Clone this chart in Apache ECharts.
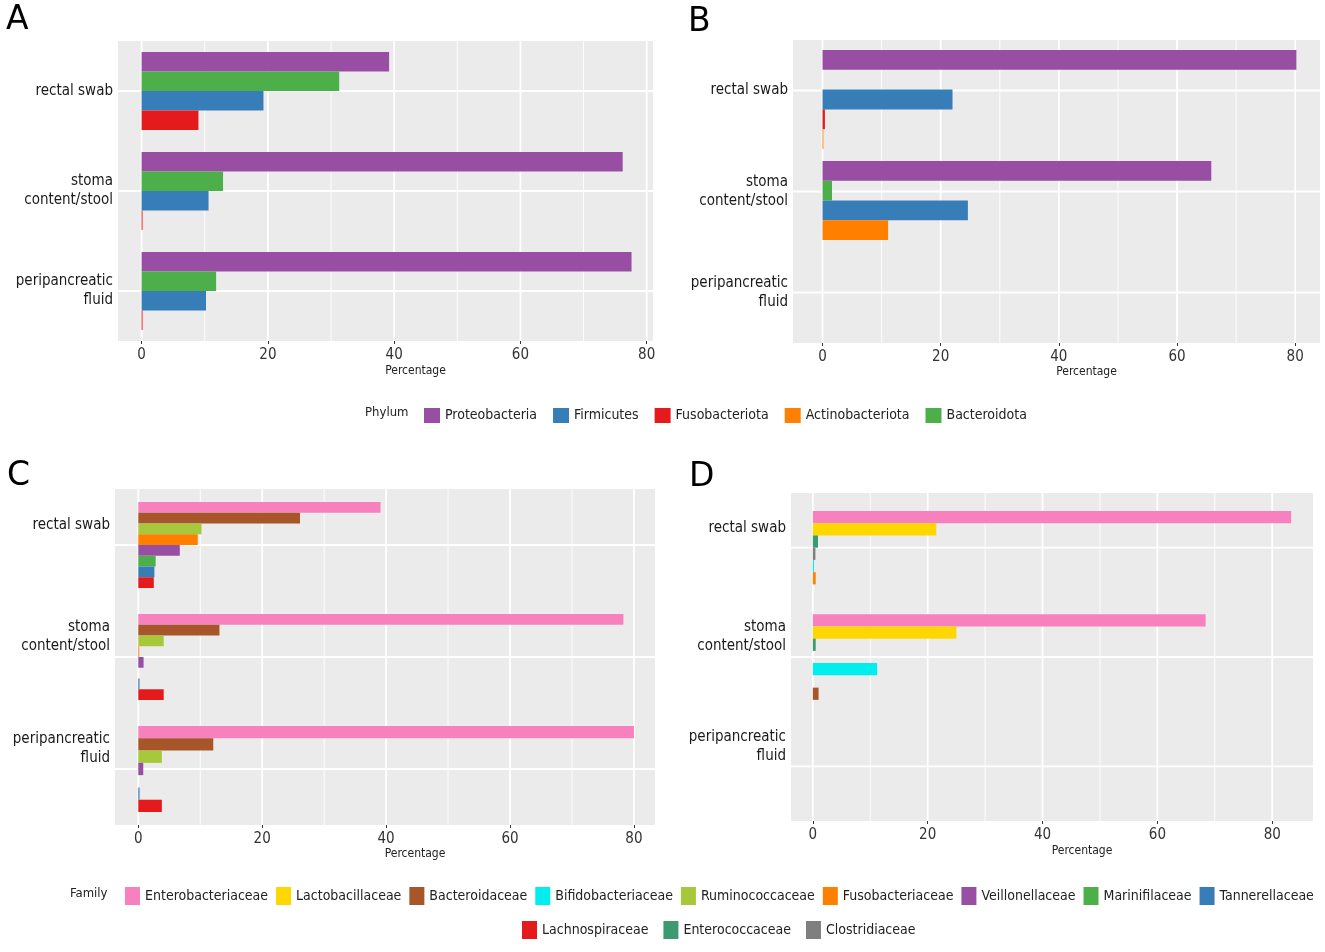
<!DOCTYPE html>
<html><head><meta charset="utf-8">
<script src="https://cdn.jsdelivr.net/npm/echarts@6/dist/echarts.min.js"></script>
<style>html,body{margin:0;padding:0;background:#fff}#c{width:1325px;height:952px}</style>
</head><body><div id="c"></div>
<script>
// ---------------- DATA ----------------
const categories = ['rectal swab', 'stoma\ncontent/stool', 'peripancreatic\nfluid'];
const xTicks = [0, 20, 40, 60, 80];
const xMinorTicks = [10, 30, 50, 70];

// Panel A (phylum) – values per category, null = not present
const A_Proteobacteria   = [39.2, 76.2, 77.6];
const A_Bacteroidota     = [31.3, 12.9, 11.8];
const A_Firmicutes       = [19.3, 10.6, 10.2];
const A_Fusobacteriota   = [9.0, 0.15, 0.15];
const A_Actinobacteriota = [null, null, null];

// Panel B (phylum)
const B_Proteobacteria   = [80.2, 65.8, null];
const B_Bacteroidota     = [0, 1.6, null];
const B_Firmicutes       = [22.0, 24.6, null];
const B_Fusobacteriota   = [0.4, null, null];
const B_Actinobacteriota = [0.15, 11.1, null];

// Panel C (family)
const C_Enterobacteriaceae = [39.1, 78.3, 80.0];
const C_Bacteroidaceae     = [26.1, 13.1, 12.1];
const C_Ruminococcaceae    = [10.2, 4.1, 3.8];
const C_Fusobacteriaceae   = [9.6, 0.15, null];
const C_Veillonellaceae    = [6.7, 0.85, 0.8];
const C_Marinifilaceae     = [2.8, 0, 0];
const C_Tannerellaceae     = [2.6, 0.2, 0.2];
const C_Lachnospiraceae    = [2.5, 4.1, 3.8];

// Panel D (family)
const D_Enterobacteriaceae = [83.3, 68.4, null];
const D_Lactobacillaceae   = [21.5, 25.0, null];
const D_Enterococcaceae    = [0.9, 0.5, null];
const D_Clostridiaceae     = [0.45, 0, null];
const D_Bifidobacteriaceae = [0.2, 11.2, null];
const D_Fusobacteriaceae   = [0.5, 0, null];
const D_Bacteroidaceae     = [null, 1.0, null];

const phylumLegend = ['Proteobacteria', 'Firmicutes', 'Fusobacteriota', 'Actinobacteriota', 'Bacteroidota'];
const familyLegendRow1 = ['Enterobacteriaceae', 'Lactobacillaceae', 'Bacteroidaceae', 'Bifidobacteriaceae', 'Ruminococcaceae', 'Fusobacteriaceae', 'Veillonellaceae', 'Marinifilaceae', 'Tannerellaceae'];
const familyLegendRow2 = ['Lachnospiraceae', 'Enterococcaceae', 'Clostridiaceae'];

// ---------------- STYLE ----------------
const colors = {
  Proteobacteria: '#984EA3', Firmicutes: '#377EB8', Fusobacteriota: '#E41A1C', Actinobacteriota: '#FF7F00', Bacteroidota: '#4DAF4A',
  Enterobacteriaceae: '#F781BF', Lactobacillaceae: '#FFD700', Bacteroidaceae: '#A65628', Bifidobacteriaceae: '#00EEEE',
  Ruminococcaceae: '#A6C83A', Fusobacteriaceae: '#FF7F00', Veillonellaceae: '#984EA3', Marinifilaceae: '#4DAF4A',
  Tannerellaceae: '#377EB8', Lachnospiraceae: '#E41A1C', Enterococcaceae: '#3B9A6E', Clostridiaceae: '#7F7F7F'
};
const FONT = "'DejaVu Sans Condensed', 'Liberation Sans', sans-serif";

const panels = [
  { letter: 'A', lx: 6, ly: 20.5, grid: { left: 118, top: 41, width: 535, height: 300 }, min: -3.74, max: 81.0,
    mode: 'single', frac: 0.195, barShift: 0, labelPad: 0, nameGap: 24,
    list: [['Proteobacteria', A_Proteobacteria], ['Bacteroidota', A_Bacteroidota], ['Firmicutes', A_Firmicutes], ['Fusobacteriota', A_Fusobacteriota], ['Actinobacteriota', A_Actinobacteriota]] },
  { letter: 'B', lx: 688, ly: 22, grid: { left: 793, top: 40, width: 527, height: 303 }, min: -5.0, max: 84.2,
    mode: 'single', frac: 0.196, barShift: 9, labelPad: 0, nameGap: 23,
    list: [['Proteobacteria', B_Proteobacteria], ['Bacteroidota', B_Bacteroidota], ['Firmicutes', B_Firmicutes], ['Fusobacteriota', B_Fusobacteriota], ['Actinobacteriota', B_Actinobacteriota]] },
  { letter: 'C', lx: 7, ly: 476.5, grid: { left: 115, top: 489, width: 540, height: 336 }, min: -3.76, max: 83.4,
    mode: 'total', frac: 0.768, barShift: 0, labelPad: 40, nameGap: 21,
    list: [['Enterobacteriaceae', C_Enterobacteriaceae], ['Bacteroidaceae', C_Bacteroidaceae], ['Ruminococcaceae', C_Ruminococcaceae], ['Fusobacteriaceae', C_Fusobacteriaceae], ['Veillonellaceae', C_Veillonellaceae], ['Marinifilaceae', C_Marinifilaceae], ['Tannerellaceae', C_Tannerellaceae], ['Lachnospiraceae', C_Lachnospiraceae]] },
  { letter: 'D', lx: 689, ly: 477, grid: { left: 791, top: 493, width: 522, height: 328 }, min: -3.8, max: 87.1,
    mode: 'single', frac: 0.112, barShift: 0, labelPad: 40, nameGap: 24,
    list: [['Enterobacteriaceae', D_Enterobacteriaceae], ['Lactobacillaceae', D_Lactobacillaceae], ['Enterococcaceae', D_Enterococcaceae], ['Clostridiaceae', D_Clostridiaceae], ['Bifidobacteriaceae', D_Bifidobacteriaceae], ['Fusobacteriaceae', D_Fusobacteriaceae], ['Bacteroidaceae', D_Bacteroidaceae]] }
];

// ---------------- BUILD ----------------
const grids = [], xAxes = [], yAxes = [], series = [], graphics = [];

function barRenderer(cfg) {
  return function (params, api) {
    const v = api.value(0), cat = api.value(1), slot = api.value(2), n = api.value(3);
    const p0 = api.coord([0, cat]);
    const p1 = api.coord([v, cat]);
    const band = api.size([0, 1])[1];
    const t = cfg.mode === 'total' ? cfg.frac * band / n : cfg.frac * band;
    const top = p0[1] + cfg.barShift - n * t / 2 + slot * t;
    return { type: 'rect', shape: { x: p0[0], y: top, width: Math.max(0, p1[0] - p0[0]), height: t },
             style: { fill: api.visual('color') } };
  };
}
function vGrid(params, api) {
  const cs = params.coordSys;
  const x = api.coord([api.value(0), 0])[0];
  return { type: 'line', shape: { x1: x, y1: cs.y, x2: x, y2: cs.y + cs.height },
           style: { stroke: '#ffffff', lineWidth: api.value(2) ? 1.8 : 0.9 } };
}
function hGrid(params, api) {
  const cs = params.coordSys;
  const y = api.coord([0, api.value(1)])[1];
  return { type: 'line', shape: { x1: cs.x, y1: y, x2: cs.x + cs.width, y2: y },
           style: { stroke: '#ffffff', lineWidth: 1.8 } };
}

panels.forEach((p, pi) => {
  grids.push(Object.assign({ show: true, backgroundColor: '#EBEBEB', borderWidth: 0, containLabel: false }, p.grid));
  xAxes.push({
    type: 'value', gridIndex: pi, min: p.min, max: p.max,
    splitLine: { show: false }, axisLine: { show: false },
    axisTick: { show: true, customValues: xTicks, length: 3, lineStyle: { color: '#333', width: 1 } },
    axisLabel: { customValues: xTicks, fontSize: 15, color: '#333', margin: 7, fontFamily: FONT },
    name: 'Percentage', nameLocation: 'middle', nameGap: p.nameGap,
    nameTextStyle: { fontSize: 12, color: '#222', fontFamily: FONT, padding: [0, 0, 0, 60] }
  });
  const yLabel = { fontSize: 15, color: '#1a1a1a', lineHeight: 19, margin: 5, fontFamily: FONT };
  if (p.labelPad) {
    yLabel.formatter = v => v + '\n{s|}';
    yLabel.rich = { s: { height: p.labelPad, lineHeight: p.labelPad } };
  }
  yAxes.push({
    type: 'category', gridIndex: pi, data: categories, inverse: true,
    axisLine: { show: false }, splitLine: { show: false },
    axisTick: { show: true, alignWithLabel: true, length: 3, lineStyle: { color: '#333' } },
    axisLabel: yLabel
  });
  // gridlines
  series.push({ type: 'custom', xAxisIndex: pi, yAxisIndex: pi, z: 1, silent: true, encode: { x: 0, y: 1 },
    data: xTicks.map(v => [v, 0, 1]).concat(xMinorTicks.map(v => [v, 0, 0])), renderItem: vGrid });
  series.push({ type: 'custom', xAxisIndex: pi, yAxisIndex: pi, z: 1, silent: true, encode: { x: 0, y: 1 },
    data: categories.map((c, i) => [0, i]), renderItem: hGrid });
  // slot assignment per category from present (non-null) values
  const slotInfo = p.list.map(() => []);
  categories.forEach((c, ci) => {
    const present = [];
    p.list.forEach((s, si) => { if (s[1][ci] !== null && s[1][ci] !== undefined) present.push(si); });
    present.forEach((si, k) => { slotInfo[si][ci] = [k, present.length]; });
  });
  p.list.forEach(([name, vals], si) => {
    const data = [];
    vals.forEach((v, ci) => { if (v !== null && v !== undefined) data.push([v, ci, slotInfo[si][ci][0], slotInfo[si][ci][1]]); });
    series.push({ type: 'custom', name, xAxisIndex: pi, yAxisIndex: pi, z: 3, encode: { x: 0, y: 1 },
      itemStyle: { color: colors[name] }, data, renderItem: barRenderer(p) });
  });
  graphics.push({ type: 'text', x: p.lx, y: p.ly,
    style: { text: p.letter, fontSize: 33, fontFamily: "'DejaVu Sans', sans-serif", fill: '#000', verticalAlign: 'middle', align: 'left' } });
});

graphics.push({ type: 'text', x: 365, y: 413, style: { text: 'Phylum', fontSize: 13, fontFamily: FONT, fill: '#222', verticalAlign: 'middle' } });
graphics.push({ type: 'text', x: 70, y: 894, style: { text: 'Family', fontSize: 13, fontFamily: FONT, fill: '#222', verticalAlign: 'middle' } });

const legendText = { fontSize: 14, color: '#222', fontFamily: FONT };
const option = {
  animation: false,
  backgroundColor: '#ffffff',
  grid: grids, xAxis: xAxes, yAxis: yAxes, series,
  graphic: graphics,
  legend: [
    { data: phylumLegend, left: 419, top: 403, itemWidth: 16, itemHeight: 15, itemGap: 16, icon: 'rect', selectedMode: false, textStyle: legendText },
    { data: familyLegendRow1, left: 120, top: 882, itemWidth: 15, itemHeight: 18, itemGap: 8, icon: 'rect', selectedMode: false, textStyle: legendText },
    { data: familyLegendRow2, left: 517, top: 916, itemWidth: 15, itemHeight: 18, itemGap: 15, icon: 'rect', selectedMode: false, textStyle: legendText }
  ]
};
const chart = echarts.init(document.getElementById('c'), null, { renderer: 'canvas' });
chart.setOption(option);
</script>
</body></html>
